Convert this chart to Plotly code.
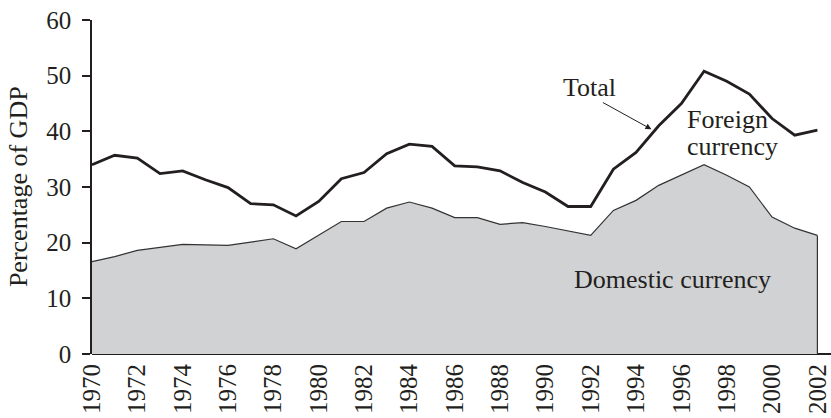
import plotly.graph_objects as go

years = list(range(1970, 2003))
total = [34.0, 35.7, 35.2, 32.4, 32.9, 31.3, 29.9, 27.0, 26.8, 24.8,
         27.4, 31.5, 32.6, 36.0, 37.7, 37.3, 33.8, 33.6, 32.9, 30.8,
         29.1, 26.5, 26.5, 33.2, 36.2, 41.0, 45.0, 50.8, 49.0, 46.7,
         42.3, 39.3, 40.2]
domestic = [16.6, 17.5, 18.6, 19.2, 19.7, 19.6, 19.5, 20.1, 20.7, 18.9,
            21.4, 23.8, 23.8, 26.2, 27.3, 26.2, 24.5, 24.5, 23.3, 23.6,
            22.9, 22.1, 21.3, 25.8, 27.6, 30.3, 32.1, 34.0, 32.1, 30.0,
            24.6, 22.6, 21.3]
tick_years = list(range(1970, 2003, 2))
y_ticks = [0, 10, 20, 30, 40, 50, 60]

FONT = "Liberation Serif"
INK = "#231f20"

fig = go.Figure()
fig.add_trace(go.Scatter(x=years, y=domestic, mode="lines", fill="tozeroy",
                         fillcolor="#d1d2d4", line=dict(color="#333333", width=1.2),
                         hoverinfo="skip", showlegend=False))
fig.add_trace(go.Scatter(x=[years[-1], years[-1]], y=[0, domestic[-1]], mode="lines",
                         line=dict(color="#333333", width=1.2), showlegend=False))
fig.add_trace(go.Scatter(x=years, y=total, mode="lines",
                         line=dict(color=INK, width=2.8), showlegend=False))

fig.update_layout(
    width=831, height=418,
    margin=dict(l=92, r=0, t=20, b=64),
    paper_bgcolor="white", plot_bgcolor="white",
    font=dict(family=FONT, color=INK, size=25),
    xaxis=dict(range=[1970, 2002.6], tickvals=tick_years, ticktext=[str(t) for t in tick_years],
               tickangle=-90, showgrid=False, zeroline=False, showline=False, automargin=False,
               ticks="", ticklabelstandoff=4, ticklabeloverflow="allow",
               tickfont=dict(size=25, family=FONT, color=INK)),
    yaxis=dict(range=[0, 60], tickvals=y_ticks, showgrid=False, zeroline=True, automargin=False,
               zerolinecolor=INK, zerolinewidth=2, showline=True, linecolor=INK, linewidth=1.5,
               ticks="outside", ticklen=8, tickwidth=1.5, tickcolor=INK,
               ticklabelstandoff=6, ticklabeloverflow="allow",
               tickfont=dict(size=25, family=FONT, color=INK)),
)

ann_font = dict(family=FONT, size=26, color=INK)
fig.add_annotation(x=-0.1, y=0.5, xref="paper", yref="paper", text="Percentage of GDP",
                   textangle=-90, showarrow=False, font=dict(family=FONT, size=26, color=INK),
                   xanchor="center", yanchor="middle")
fig.add_annotation(x=1991.96, y=47.96, text="Total", showarrow=False, font=ann_font,
                   xanchor="center", yanchor="middle")
fig.add_annotation(x=1994.68, y=40.36, ax=-50, ay=-27.6, text="", showarrow=True,
                   arrowhead=2, arrowsize=1.2, arrowwidth=1, arrowcolor=INK)
fig.add_annotation(x=1996.15, y=42.1, text="Foreign", showarrow=False, font=ann_font,
                   xanchor="left", yanchor="middle")
fig.add_annotation(x=1996.15, y=37.2, text="currency", showarrow=False, font=ann_font,
                   xanchor="left", yanchor="middle")
fig.add_annotation(x=1991.19, y=13.47, text="Domestic currency", showarrow=False, font=ann_font,
                   xanchor="left", yanchor="middle")

fig.write_html("out.html", config={"displayModeBar": False},
               post_script="document.body.style.margin='0';document.body.style.overflow='hidden';")
